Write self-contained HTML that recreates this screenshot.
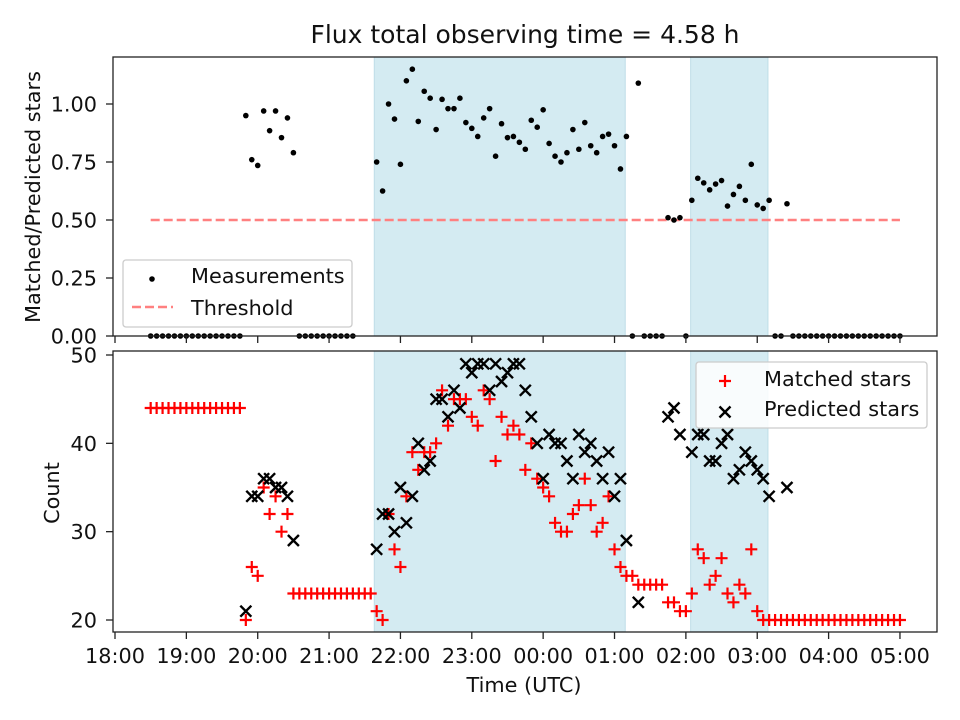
<!DOCTYPE html>
<html><head><meta charset="utf-8">
<style>
html,body{margin:0;padding:0;background:#fff;}
svg{display:block;font-family:"DejaVu Sans","Liberation Sans",sans-serif;}
</style></head>
<body>
<svg id="chart" width="960" height="720" viewBox="0 0 960 720"></svg>
<script>
const N = null;
// minutes since 18:00, every 5 min from 18:30 to 05:00
const startMinute = 30, stepMinute = 5;
const matched = [44,44,44,44,44,44,44,44,44,44,44,44,44,44,44,44,
 20,26,25,35,32,34,30,32,23,
 23,23,23,23,23,23,23,23,23,23,23,23,23,
 21,20,32,28,26,34,39,37,39,39,40,46,42,45,45,45,43,42,46,45,38,43,41,42,41,37,40,36,35,34,31,30,30,32,33,36,33,30,31,34,28,26,25,
 25,24,24,24,24,24,22,22,21,21,
 23,28,27,24,25,27,23,22,24,23,28,21,20,20,
 20,20,20,20,20,20,20,20,20,20,20,20,20,20,20,20,20,20,20,20,20,20];
const predicted = [N,N,N,N,N,N,N,N,N,N,N,N,N,N,N,N,
 21,34,34,36,36,35,35,34,29,
 N,N,N,N,N,N,N,N,N,N,N,N,N,
 28,32,32,30,35,31,34,40,37,38,45,45,43,46,44,49,48,49,49,46,49,47,48,49,49,46,43,40,36,41,40,40,38,36,41,39,40,38,36,39,34,36,29,
 N,22,N,N,N,N,43,44,41,N,
 39,41,41,38,38,40,41,36,37,39,38,37,36,34,
 N,N,35,N,N,N,N,N,N,N,N,N,N,N,N,N,N,N,N,N,N,N];
const ratio = [0,0,0,0,0,0,0,0,0,0,0,0,0,0,0,0,
 0.95,0.76,0.735,0.97,0.885,0.97,0.855,0.94,0.79,
 0,0,0,0,0,0,0,0,0,0,N,N,N,
 0.75,0.625,1.0,0.935,0.74,1.10,1.15,0.925,1.055,1.025,0.89,1.02,0.98,0.98,1.025,0.92,0.895,0.86,0.94,0.98,0.775,0.915,0.855,0.86,0.835,0.805,0.93,0.90,0.975,0.83,0.775,0.75,0.79,0.89,0.805,0.92,0.82,0.79,0.86,0.87,0.82,0.72,0.86,
 0,1.09,0,0,0,0,0.51,0.50,0.51,0,
 0.585,0.68,0.66,0.63,0.655,0.67,0.56,0.61,0.645,0.585,0.74,0.565,0.55,0.585,
 0,0,0.57,0,0,0,0,0,0,0,0,0,0,0,0,0,0,0,0,0,0,0];
const xTickLabels = ["18:00","19:00","20:00","21:00","22:00","23:00","00:00","01:00","02:00","03:00","04:00","05:00"];
const topYTicks = [0,0.25,0.5,0.75,1.0];
const topYTickLabels = ["0.00","0.25","0.50","0.75","1.00"];
const bottomYTicks = [20,30,40,50];
const windows = [[218,429],[484,549]]; // observing windows, minutes since 18:00
const thresholdValue = 0.5, thresholdRange = [30,660];

const svg = document.getElementById('chart');
const NS = 'http://www.w3.org/2000/svg';
function mk(tag, attrs, parent){ const e=document.createElementNS(NS,tag); for(const k in attrs) e.setAttribute(k,attrs[k]); (parent||svg).appendChild(e); return e; }

const L=113, R=937;
const topAx={t:57,b:336}, botAx={t:351,b:632};
const x = m => 115 + m*71.36/60;
const yTop = v => 336 - v*232;
const yBot = v => 620 - (v-20)*265/30;
const timeOf = i => startMinute + i*stepMinute;
const FS = 20.8;

function axesFrame(ax,name){
  const g=mk('g',{});
  
  
  windows.forEach(w=>{
    const r=mk('rect',{x:x(w[0]),y:ax.t,width:x(w[1])-x(w[0]),height:ax.b-ax.t,fill:'#d4ebf2',stroke:'#bfdde8','stroke-width':1},g);
    
    
  });
  return g;
}
function border(ax,name){
  const r=mk('rect',{x:L,y:ax.t,width:R-L,height:ax.b-ax.t,fill:'none',stroke:'#222','stroke-width':1.3});
  
  
}

// ---- top panel
axesFrame(topAx,'top-panel');
const th=mk('line',{x1:x(thresholdRange[0]),x2:x(thresholdRange[1]),y1:yTop(thresholdValue),y2:yTop(thresholdValue),stroke:'#ff8080','stroke-width':2.5,'stroke-dasharray':'9,4'});


ratio.forEach((v,i)=>{
  if(v===null) return;
  const c=mk('circle',{cx:x(timeOf(i)),cy:yTop(v),r:2.8,fill:'#000'});
  
  
});
border(topAx,'top-axes-frame');

// ---- bottom panel
axesFrame(botAx,'bottom-panel');
matched.forEach((v,i)=>{
  if(v===null) return;
  const cx=x(timeOf(i)), cy=yBot(v);
  const p=mk('path',{d:`M${cx-6},${cy}H${cx+6}M${cx},${cy-6}V${cy+6}`,stroke:'#ff0000','stroke-width':2.2});
  
  
});
predicted.forEach((v,i)=>{
  if(v===null) return;
  const cx=x(timeOf(i)), cy=yBot(v);
  const p=mk('path',{d:`M${cx-5.5},${cy-5.5}L${cx+5.5},${cy+5.5}M${cx-5.5},${cy+5.5}L${cx+5.5},${cy-5.5}`,stroke:'#000','stroke-width':2.4});
  
  
});
border(botAx,'bottom-axes-frame');

// ---- ticks
xTickLabels.forEach((lab,i)=>{
  const xx=x(i*60);
  [topAx,botAx].forEach(ax=>{ mk('line',{x1:xx,x2:xx,y1:ax.b,y2:ax.b+7,stroke:'#222','stroke-width':1.3}); });
  const t=mk('text',{x:xx,y:663,'font-size':FS,'text-anchor':'middle',fill:'#111'});
  t.textContent=lab;
  
  
});
topYTicks.forEach((v,i)=>{
  const yy=yTop(v);
  mk('line',{x1:L-7,x2:L,y1:yy,y2:yy,stroke:'#222','stroke-width':1.3});
  const t=mk('text',{x:L-16,y:yy+7.5,'font-size':FS,'text-anchor':'end',fill:'#111'});
  t.textContent=topYTickLabels[i];
  
  
});
bottomYTicks.forEach(v=>{
  const yy=yBot(v);
  mk('line',{x1:L-7,x2:L,y1:yy,y2:yy,stroke:'#222','stroke-width':1.3});
  const t=mk('text',{x:L-16,y:yy+7.5,'font-size':FS,'text-anchor':'end',fill:'#111'});
  t.textContent=String(v);
  
  
});
</script>
<svg width="960" height="720" style="position:absolute;left:0;top:0;pointer-events:none">
  <text x="525" y="43" font-size="25" text-anchor="middle" fill="#111" font-family="DejaVu Sans, sans-serif">Flux total observing time = 4.58 h</text>
  <text x="524" y="692" font-size="20.8" text-anchor="middle" fill="#111" font-family="DejaVu Sans, sans-serif">Time (UTC)</text>
  <text transform="translate(40,197) rotate(-90)" font-size="20.8" text-anchor="middle" fill="#111" font-family="DejaVu Sans, sans-serif">Matched/Predicted stars</text>
  <text transform="translate(59,493) rotate(-90)" font-size="20.8" text-anchor="middle" fill="#111" font-family="DejaVu Sans, sans-serif">Count</text>
  <g font-family="DejaVu Sans, sans-serif" font-size="20.8">
    <rect x="123" y="260" width="229" height="67" rx="3" fill="#fff" fill-opacity="0.85" stroke="#ccc" stroke-width="1.3"/>
    <circle cx="152" cy="279" r="2.8" fill="#000"/>
    <text x="191" y="283" fill="#111">Measurements</text>
    <line x1="132" x2="173" y1="307" y2="307" stroke="#ff8080" stroke-width="2.5" stroke-dasharray="9,4"/>
    <text x="191" y="315" fill="#111">Threshold</text>
  </g>
  <g font-family="DejaVu Sans, sans-serif" font-size="20.8">
    <rect x="696" y="362" width="231" height="66" rx="3" fill="#fff" fill-opacity="0.85" stroke="#ccc" stroke-width="1.3"/>
    <path d="M719,381H731M725,375V387" stroke="#ff0000" stroke-width="2.2"/>
    <text x="764" y="386" fill="#111">Matched stars</text>
    <path d="M719.5,406.5L730.5,417.5M719.5,417.5L730.5,406.5" stroke="#000" stroke-width="2.4"/>
    <text x="764" y="416" fill="#111">Predicted stars</text>
  </g>
</svg>
</body></html>
